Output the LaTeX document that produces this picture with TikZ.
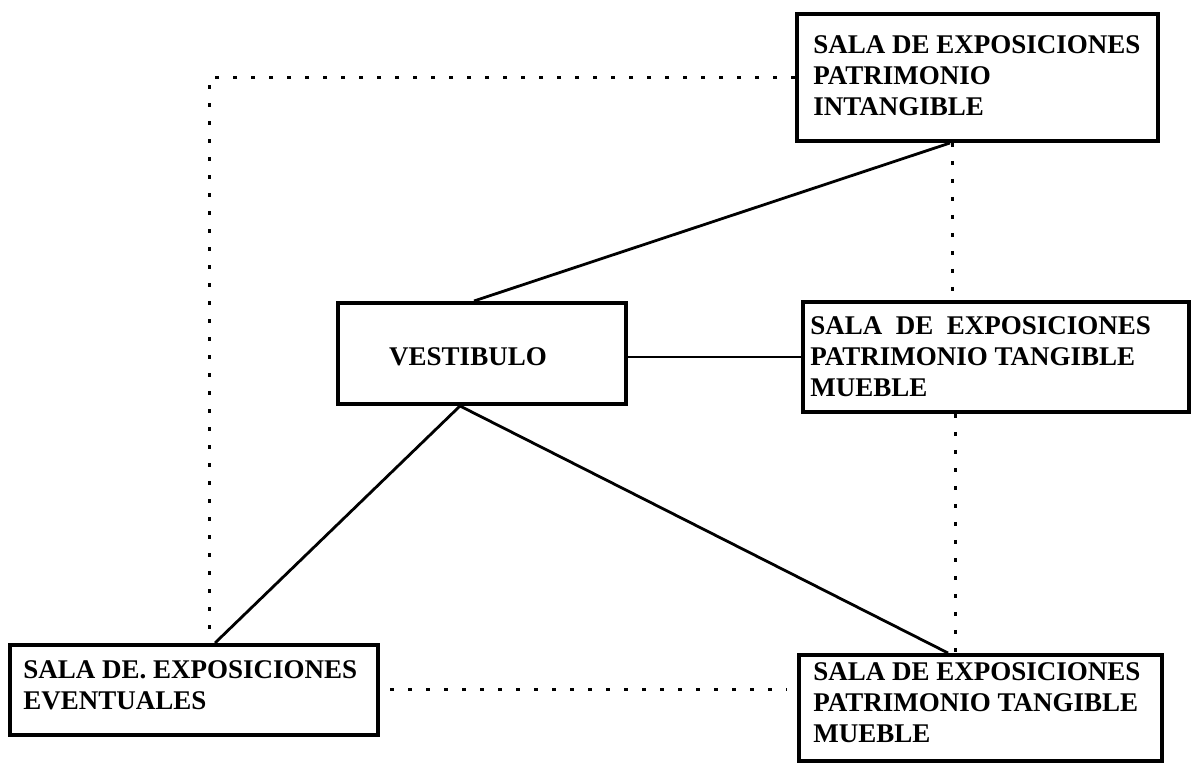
\documentclass[tikz,border=0pt]{standalone}
\usepackage{fontspec}
\setmainfont{Liberation Serif}
\usetikzlibrary{calc}
\tikzset{
  roombox/.style={draw=black, line width=2pt, rectangle, inner sep=0pt},
  lbl/.style={inner sep=0pt, align=left, font=\fontsize{13.5}{15.5}\selectfont\bfseries},
  solidlink/.style={draw=black, line width=1.4pt},
  dotlink/.style={draw=black, line width=1.5pt, dash pattern=on 2pt off 7pt},
}
\begin{document}
\begin{tikzpicture}[x=0.5pt, y=-0.5pt]
\useasboundingbox[fill=white] (0,0) rectangle (1201,769);
% boxes
\node[roombox, minimum width=180.5pt, minimum height=63.5pt] (A) at (977.5,77.5) {};
\node[roombox, minimum width=144pt, minimum height=50.5pt] (V) at (482,353.5) {};
\node[roombox, minimum width=193pt, minimum height=55pt] (M) at (996,357) {};
\node[roombox, minimum width=184pt, minimum height=45pt] (L) at (194,690) {};
\node[roombox, minimum width=181.5pt, minimum height=53pt] (R) at (980.5,708) {};
% labels
\node[lbl, anchor=west] (At) at ([xshift=9pt,yshift=1pt]A.west) {SALA DE EXPOSICIONES\\PATRIMONIO\\INTANGIBLE};
\node[lbl] (Vt) at (468,357) {VESTIBULO};
\node[lbl, anchor=west] (Mt) at ([xshift=4.5pt]M.west) {SALA\ \ DE\ \ EXPOSICIONES\\PATRIMONIO TANGIBLE\\MUEBLE};
\node[lbl, anchor=west] (Lt) at ([xshift=7.5pt,yshift=2.5pt]L.west) {SALA DE. EXPOSICIONES\\EVENTUALES};
\node[lbl, anchor=west] (Rt) at ([xshift=8pt,yshift=2.5pt]R.west) {SALA DE EXPOSICIONES\\PATRIMONIO TANGIBLE\\MUEBLE};
% solid connectors
\coordinate (vb) at ([xshift=-11pt]V.south);
\draw[solidlink] ([xshift=-4pt]V.north) -- ([xshift=-13.75pt]A.south);
\draw[solidlink, line width=1pt] (M.west -| V.east) -- (M.west);
\draw[solidlink] (vb) -- ([xshift=10.5pt]L.north);
\draw[solidlink] (vb) -- ([xshift=-16.25pt]R.north);
% dotted connectors
\draw[dotlink] (A.west) -| ([xshift=7.5pt]L.north);
\draw[dotlink] ([xshift=-12.75pt]A.south) coordinate (d1) -- (d1 |- M.north);
\draw[dotlink] ([xshift=-20.5pt]M.south) coordinate (d2) -- (d2 |- R.north);
\draw[dotlink, shorten <=5pt, shorten >=5pt] (L.east) -- (L.east -| R.west);
\end{tikzpicture}
\end{document}
